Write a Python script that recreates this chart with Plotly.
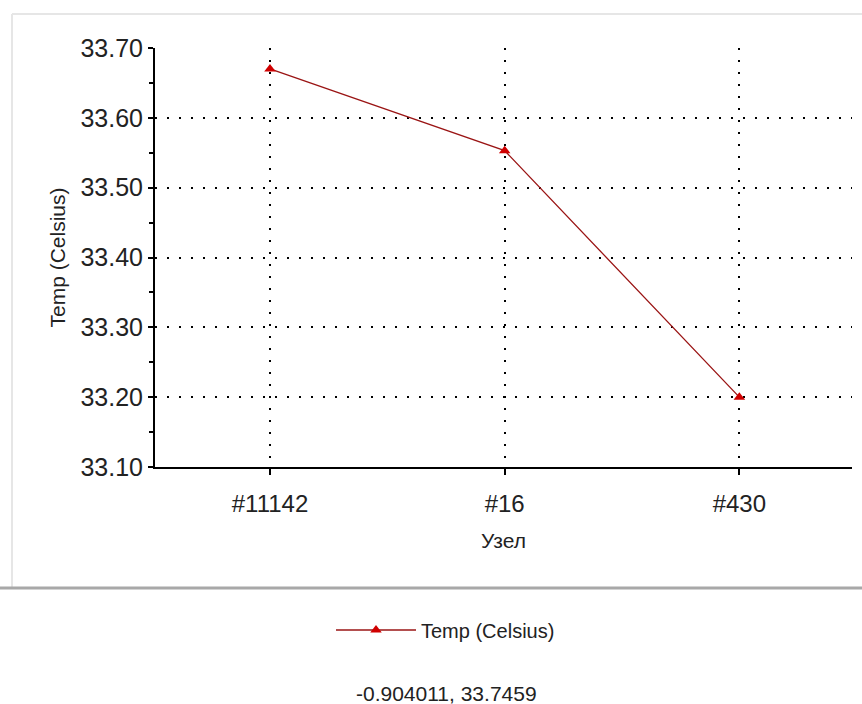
import plotly.graph_objects as go

# ---- data ----
nodes = ["#11142", "#16", "#430"]
temps = [33.67, 33.553, 33.20]
series_name = "Temp (Celsius)"
y_ticks = [33.10, 33.20, 33.30, 33.40, 33.50, 33.60, 33.70]
y_tick_text = ["33.10", "33.20", "33.30", "33.40", "33.50", "33.60", "33.70"]
cursor_text = "-0.904011, 33.7459"

W, H = 862, 704
L, R, T, B = 155, 10, 48, 237
pw, ph = W - L - R, H - T - B


def px_x(x):
    return (x - L) / pw


def px_y(y):
    return (H - B - y) / ph


FONT = "Liberation Sans, Arial, sans-serif"

fig = go.Figure()
fig.add_trace(go.Scatter(
    x=nodes, y=temps, mode="lines+markers", name=series_name,
    line=dict(color="#9a1414", width=1.3),
    marker=dict(symbol="triangle-up", size=10, color="#d00000"),
))

grid_dash = "2px,10px"
fig.update_layout(
    width=W, height=H,
    margin=dict(l=L, r=R, t=T, b=B, autoexpand=False),
    paper_bgcolor="white", plot_bgcolor="white",
    font=dict(family=FONT, color="#222222"),
    showlegend=True,
    legend=dict(orientation="h", x=px_x(331), xanchor="left",
                y=px_y(630), yanchor="middle",
                font=dict(size=20, family=FONT, color="#222222"),
                bgcolor="rgba(0,0,0,0)", itemwidth=80),
    xaxis=dict(
        type="category", categoryorder="array", categoryarray=nodes,
        range=[-0.49, 2.48],
        showline=True, linecolor="black", linewidth=2,
        ticks="outside", ticklen=6, tickwidth=2, tickcolor="black",
        tickfont=dict(size=24, family=FONT, color="#222222"),
        ticklabelstandoff=8,
        showgrid=True, gridcolor="black", gridwidth=2, griddash=grid_dash,
        zeroline=False,
        title=dict(text="Узел", font=dict(size=21, family=FONT, color="#222222"), standoff=18),
    ),
    yaxis=dict(
        range=[33.10, 33.70],
        tickmode="array", tickvals=y_ticks, ticktext=y_tick_text,
        showline=True, linecolor="black", linewidth=2,
        ticks="outside", ticklen=5, tickwidth=2, tickcolor="black",
        minor=dict(ticks="outside", ticklen=4, tickwidth=2, tickcolor="black",
                   dtick=0.05, tick0=33.10, showgrid=False),
        tickfont=dict(size=25, family=FONT, color="#222222"),
        showgrid=True, gridcolor="black", gridwidth=2, griddash=grid_dash,
        zeroline=False,
        title=dict(text=series_name, font=dict(size=21, family=FONT, color="#222222"), standoff=9),
    ),
    shapes=[
        dict(type="line", xref="paper", yref="paper", x0=px_x(12), x1=px_x(12),
             y0=px_y(14), y1=px_y(588), line=dict(color="#e6e6e6", width=2), layer="below"),
        dict(type="line", xref="paper", yref="paper", x0=px_x(12), x1=px_x(870),
             y0=px_y(14), y1=px_y(14), line=dict(color="#e6e6e6", width=2), layer="below"),
        dict(type="line", xref="paper", yref="paper", x0=px_x(0), x1=px_x(870),
             y0=px_y(588), y1=px_y(588), line=dict(color="#a8a8a8", width=3), layer="below"),
    ],
    annotations=[
        dict(text=cursor_text, xref="paper", yref="paper", x=px_x(446), y=px_y(693),
             xanchor="center", yanchor="middle", showarrow=False,
             font=dict(size=21, family=FONT, color="#222222")),
    ],
)

fig.write_html("out.html", config={"displayModeBar": False},
               post_script="document.body.style.margin='0';document.body.style.overflow='hidden';")
